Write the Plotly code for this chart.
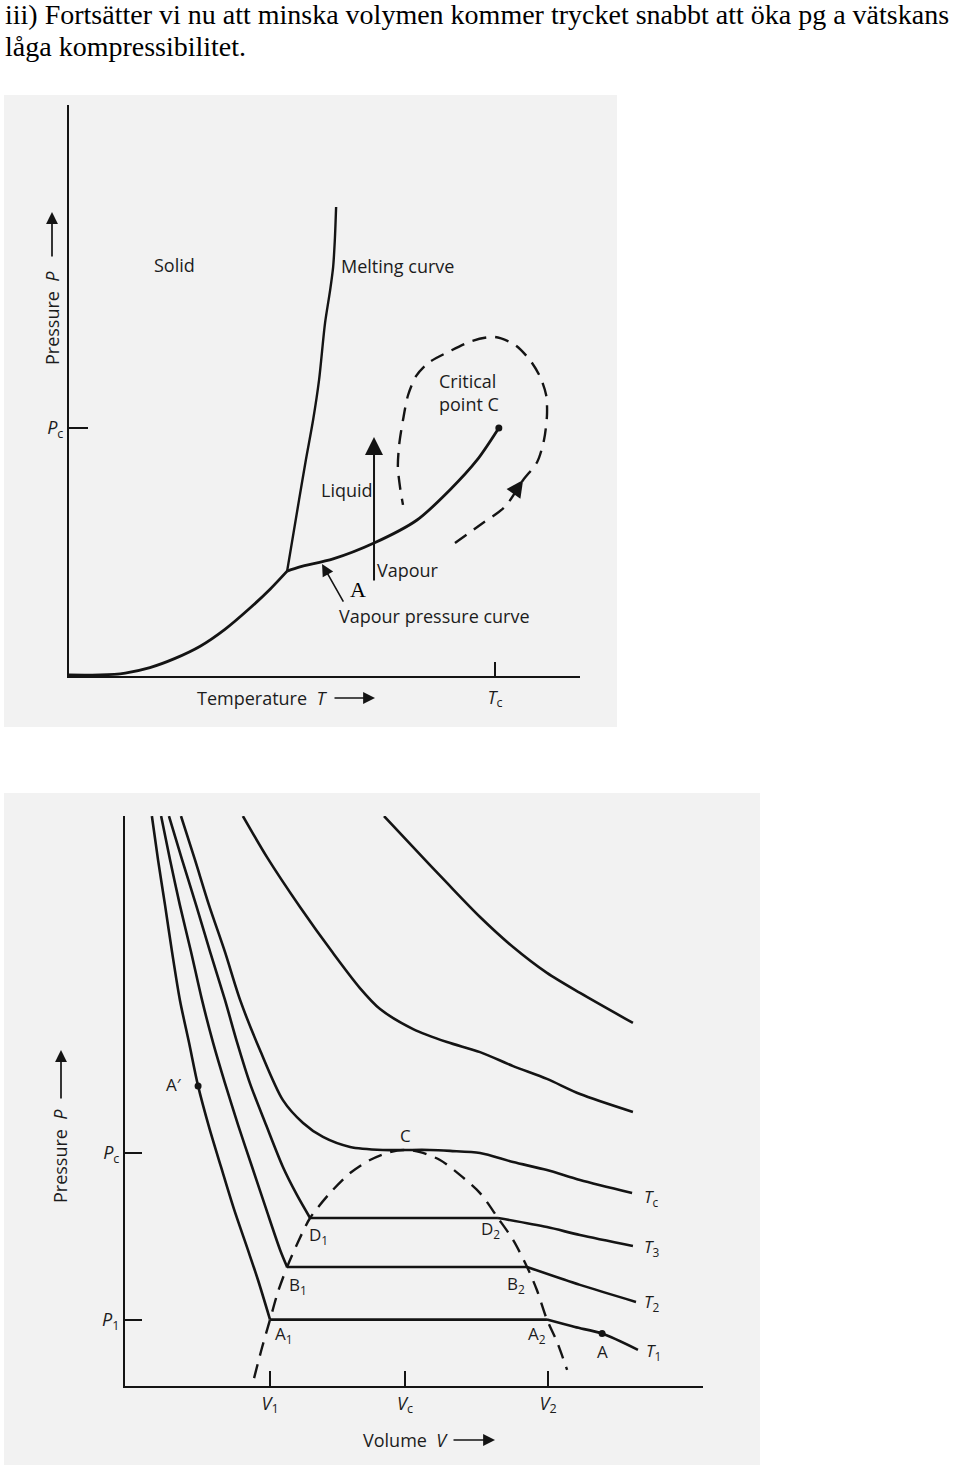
import plotly.graph_objects as go

W, H = 960, 1467
INK = "#141414"
TXT = "#1c1c1c"
SANS = "Open Sans"
SERIF = "Liberation Serif"

# ---------------- Upper diagram: P-T phase diagram ----------------
# temperature T and pressure P in percent of the critical values Tc, Pc
T_TICKS = [100]
T_TICK_TEXT = ["<i>T</i><sub>c</sub>"]
P_TICKS = [100]
P_TICK_TEXT = ["<i>P</i><sub>c</sub>"]

subl_T = [0.0, 7.3, 13.2, 19.0, 24.9, 30.8, 36.6, 42.5, 47.2, 51.2]
subl_P = [0.4, 0.4, 1.2, 3.4, 7.1, 12.0, 18.8, 27.4, 35.0, 42.3]

melt_T = [51.2, 54.0, 55.6, 57.3, 58.7, 60.1, 61.3, 62.0, 62.4, 62.7]
melt_P = [42.3, 71.0, 87.1, 103.2, 119.4, 142.3, 155.6, 164.9, 175.8, 189.1]

vap_T = [51.2, 54.2, 62.0, 71.6, 81.7, 89.4, 95.8, 100.9]
vap_P = [42.3, 44.0, 47.2, 53.6, 62.9, 75.0, 87.1, 100.0]

crit_T = [100.9]
crit_P = [100.0]

loop_T = [90.6, 96.5, 102.3, 106.6, 109.9, 111.5, 112.2, 112.0, 110.6, 108.2, 104.7,
          100.0, 94.6, 89.4, 84.3, 81.5, 79.6, 78.4, 77.5, 77.2, 77.7, 78.4]
loop_P = [53.6, 60.9, 68.2, 79.0, 86.3, 95.2, 105.2, 113.3, 120.6, 127.4, 133.5,
          136.7, 135.1, 131.0, 126.2, 121.0, 113.3, 103.2, 93.2, 84.3, 76.2, 69.0]

heat_T = [71.6, 71.6]          # vertical path: start, end
heat_P = [37.9, 96.4]
pointer_T = [64.6, 59.4]       # pointer to vapour pressure curve: tail, tip
pointer_P = [29.4, 45.2]
loop_head_T = [104.4, 106.6]   # arrow head on the dashed path: tail, tip
loop_head_P = [73.6, 79.0]

# ---------------- Lower diagram: P-V isotherms ----------------
# volume V and pressure P in percent of Vc, Pc
V_TICKS = [51.8, 100, 151.1]
V_TICK_TEXT = ["<i>V</i><sub>1</sub>", "<i>V</i><sub>c</sub>", "<i>V</i><sub>2</sub>"]
P2_TICKS = [28.5, 100]
P2_TICK_TEXT = ["<i>P</i><sub>1</sub>", "<i>P</i><sub>c</sub>"]

iso_T1_V = [9.6, 11.8, 14.3, 16.8, 19.6, 22.9, 26.1, 30.0, 34.3, 38.9, 43.9, 47.5, 51.8,
            150.7, 160.7, 170.4, 183.2]
iso_T1_P = [244.6, 225.8, 206.4, 186.3, 165.7, 147.2, 128.8, 111.2, 94.0, 76.0, 58.4, 45.5, 28.5,
            28.5, 25.3, 22.5, 15.5]

iso_T2_V = [12.9, 16.1, 19.6, 23.6, 27.5, 31.4, 35.7, 40.4, 45.4, 50.4, 55.4, 57.9,
            143.6, 162.5, 182.5]
iso_T2_P = [244.6, 225.8, 206.4, 186.3, 165.7, 147.6, 130.0, 112.0, 94.0, 76.0, 58.4, 51.1,
            51.1, 43.4, 36.1]

iso_T3_V = [15.7, 20.4, 25.4, 30.4, 35.7, 40.0, 44.6, 50.4, 56.4, 61.4, 66.1,
            133.2, 150.7, 162.5, 181.4]
iso_T3_P = [244.6, 225.8, 206.4, 186.3, 165.7, 147.6, 130.0, 112.0, 94.0, 82.0, 72.1,
            72.1, 68.2, 64.8, 60.1]

iso_Tc_V = [20.0, 25.0, 30.0, 35.7, 41.1, 48.2, 56.4, 63.6, 70.7, 80.4, 92.1, 100.0,
            108.9, 116.1, 126.8, 138.6, 150.7, 162.5, 181.1]
iso_Tc_P = [244.6, 225.8, 206.4, 186.3, 165.7, 144.2, 122.7, 112.9, 106.9, 102.6, 101.3, 101.3,
            101.3, 100.9, 100.0, 96.1, 92.7, 88.4, 82.8]

iso_T4_V = [42.1, 50.7, 62.5, 74.3, 83.9, 91.1, 102.9, 115.0, 126.8, 138.6, 150.7, 162.5, 181.4]
iso_T4_P = [244.6, 227.0, 205.6, 185.8, 170.8, 161.8, 153.2, 147.6, 143.3, 137.3, 131.8, 125.3, 117.6]

iso_T5_V = [92.5, 102.9, 115.0, 126.8, 138.6, 150.7, 162.5, 181.4]
iso_T5_P = [244.6, 231.3, 215.9, 201.3, 188.4, 177.3, 168.7, 155.8]

dome_V = [46.1, 48.9, 51.8, 54.6, 57.9, 61.8, 66.1, 73.2, 80.4, 87.5, 94.6, 100.0,
          105.4, 112.5, 119.6, 126.8, 133.2, 138.6, 143.6, 147.1, 150.7, 154.3, 157.9]
dome_P = [3.4, 16.3, 28.5, 40.3, 51.1, 61.8, 72.1, 82.8, 91.4, 97.0, 100.4, 101.3,
          100.4, 97.0, 90.6, 82.8, 72.1, 62.7, 51.1, 41.2, 28.5, 18.9, 6.9]

dots_V = [26.1, 170.4]   # A', A
dots_P = [128.8, 22.5]


def X(p):
    return p / W


def Y(p):
    return 1 - p / H


fig = go.Figure()


def line(xs, ys, xa, ya, width=2.6, dash=None, shape="spline"):
    fig.add_trace(go.Scatter(
        x=xs, y=ys, mode="lines", xaxis=xa, yaxis=ya, hoverinfo="skip",
        line=dict(color=INK, width=width, shape=shape, smoothing=0.8, dash=dash)))


def isotherm(vs, ps):
    k = next(i for i in range(len(ps) - 1) if ps[i] == ps[i + 1])
    line(vs[:k + 1], ps[:k + 1], "x2", "y2")
    line(vs[k:k + 2], ps[k:k + 2], "x2", "y2", shape="linear")
    line(vs[k + 1:], ps[k + 1:], "x2", "y2")


# upper diagram curves
line(subl_T, subl_P, "x", "y", width=2.8)
line(melt_T, melt_P, "x", "y", width=2.4)
line(vap_T, vap_P, "x", "y", width=2.8)
line(loop_T, loop_P, "x", "y", width=2.4, dash="14px,9px")
fig.add_trace(go.Scatter(x=crit_T, y=crit_P, mode="markers", xaxis="x", yaxis="y",
                         marker=dict(color=INK, size=7), hoverinfo="skip"))

# lower diagram curves
isotherm(iso_T1_V, iso_T1_P)
isotherm(iso_T2_V, iso_T2_P)
isotherm(iso_T3_V, iso_T3_P)
line(iso_Tc_V, iso_Tc_P, "x2", "y2")
line(iso_T4_V, iso_T4_P, "x2", "y2")
line(iso_T5_V, iso_T5_P, "x2", "y2")
line(dome_V, dome_P, "x2", "y2", width=2.4, dash="14px,9px")
fig.add_trace(go.Scatter(x=dots_V, y=dots_P, mode="markers", xaxis="x2", yaxis="y2",
                         marker=dict(color=INK, size=7), hoverinfo="skip"))

ann = []


def arrow_data(xs, ys, xr, yr, size, width):
    ann.append(dict(x=xs[1], y=ys[1], ax=xs[0], ay=ys[0], xref=xr, yref=yr, axref=xr, ayref=yr,
                    text="", showarrow=True, arrowhead=2, arrowsize=size, arrowwidth=width,
                    arrowcolor=INK))


arrow_data(heat_T, heat_P, "x", "y", 1.8, 2.0)
arrow_data(pointer_T, pointer_P, "x", "y", 1.5, 1.6)
arrow_data(loop_head_T, loop_head_P, "x", "y", 1.4, 2.4)


def arrow_px(x, y, ax, ay):
    ann.append(dict(x=X(x), y=Y(y), ax=ax, ay=ay, xref="paper", yref="paper", text="",
                    showarrow=True, arrowhead=2, arrowsize=1.4, arrowwidth=1.7, arrowcolor=INK))


def label(text, x, y, size=18, xanchor="left", family=SANS, angle=0, color=TXT):
    ann.append(dict(text=text, x=X(x), y=Y(y), xref="paper", yref="paper", showarrow=False,
                    xanchor=xanchor, yanchor="middle", textangle=angle,
                    font=dict(family=family, size=size, color=color)))


# heading text
label("iii) Fortsätter vi nu att minska volymen kommer trycket snabbt att öka pg a vätskans",
      3, 15, size=28, family=SERIF, color="#000000")
label("låga kompressibilitet.", 3, 47, size=28, family=SERIF, color="#000000")

# upper diagram labels
label("Solid", 152, 265)
label("Melting curve", 339, 266)
label("Critical", 437, 381)
label("point C", 437, 404)
label("Liquid", 319, 490)
label("Vapour", 375, 570)
label("Vapour pressure curve", 337, 616)
label("A", 358, 589, size=22, xanchor="center", family=SERIF, color="#000000")
label("Temperature  <i>T</i>", 195, 698)
arrow_px(375, 698, -42, 0)
label("Pressure  <i>P</i>", 52, 318, xanchor="center", angle=-90)
arrow_px(52, 212, 0, 46)

# lower diagram labels
label("Pressure  <i>P</i>", 60, 1156, xanchor="center", angle=-90)
arrow_px(61, 1050, 0, 50)
label("Volume  <i>V</i>", 361, 1440)
arrow_px(495, 1440, -43, 0)
label("A′", 174, 1084, size=17, xanchor="center")
label("C", 405, 1135, size=17, xanchor="center")
label("D<sub>1</sub>", 307, 1235, size=17)
label("B<sub>1</sub>", 287, 1285, size=17)
label("A<sub>1</sub>", 273, 1334, size=17)
label("D<sub>2</sub>", 479, 1229, size=17)
label("B<sub>2</sub>", 505, 1284, size=17)
label("A<sub>2</sub>", 526, 1334, size=17)
label("A", 602, 1351, size=17, xanchor="center")
label("<i>T</i><sub>c</sub>", 642, 1197, size=17)
label("<i>T</i><sub>3</sub>", 642, 1247, size=17)
label("<i>T</i><sub>2</sub>", 642, 1302, size=17)
label("<i>T</i><sub>1</sub>", 644, 1351, size=17)

tickfont = dict(family=SANS, size=18, color=TXT)
axis_common = dict(showgrid=False, zeroline=False, showline=True, linecolor=INK, linewidth=2,
                   ticks="inside", tickwidth=2, tickcolor=INK, tickfont=tickfont, fixedrange=True)

fig.update_layout(
    width=W, height=H, margin=dict(l=0, r=0, t=0, b=0), showlegend=False,
    paper_bgcolor="#ffffff", plot_bgcolor="rgba(0,0,0,0)",
    xaxis=dict(domain=[X(69), X(580)], range=[0, 119.95], anchor="y", ticklabelstandoff=4,
               tickvals=T_TICKS, ticktext=T_TICK_TEXT, ticklen=14, **axis_common),
    yaxis=dict(domain=[Y(676), Y(105)], range=[0, 230.24], anchor="x",
               tickvals=P_TICKS, ticktext=P_TICK_TEXT, ticklen=19, **axis_common),
    xaxis2=dict(domain=[X(125), X(703)], range=[0, 206.43], anchor="y2",
                tickvals=V_TICKS, ticktext=V_TICK_TEXT, ticklen=15, **axis_common),
    yaxis2=dict(domain=[Y(1386), Y(816)], range=[0, 244.64], anchor="x2",
                tickvals=P2_TICKS, ticktext=P2_TICK_TEXT, ticklen=17, **axis_common),
    shapes=[
        dict(type="rect", xref="paper", yref="paper", x0=X(4), x1=X(617), y0=Y(727), y1=Y(95),
             fillcolor="#f2f2f2", line=dict(width=0), layer="below"),
        dict(type="rect", xref="paper", yref="paper", x0=X(4), x1=X(760), y0=Y(1465), y1=Y(793),
             fillcolor="#f2f2f2", line=dict(width=0), layer="below"),
    ],
    annotations=ann,
)

fig.write_html("out.html", config={"displayModeBar": False, "staticPlot": True},
               post_script="document.body.style.margin='0px';")
